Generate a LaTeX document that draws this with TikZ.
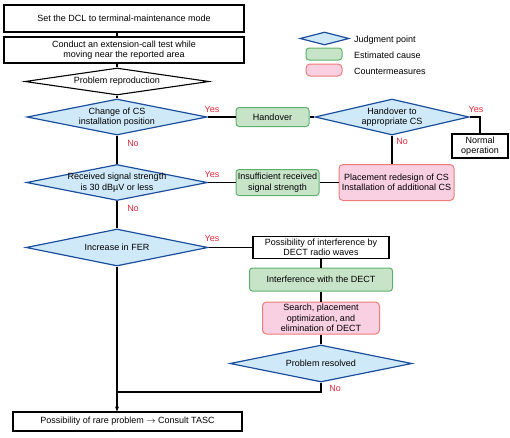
\documentclass[tikz,border=0pt]{standalone}
\usepackage{fontspec}
\setmainfont{Liberation Sans}
\usetikzlibrary{shapes.geometric,arrows.meta}

\definecolor{judgefill}{HTML}{CFE9F8}
\definecolor{judgeline}{HTML}{1B4F9E}
\definecolor{causefill}{HTML}{C7E3C8}
\definecolor{causeline}{HTML}{5DB26B}
\definecolor{measurefill}{HTML}{F8D0E1}
\definecolor{measureline}{HTML}{EE7C77}
\definecolor{answer}{HTML}{E8283C}

\begin{document}
\begin{tikzpicture}[x=1pt, y=-1pt, font=\fontsize{9}{10.5}\selectfont,
    every node/.style={align=center, inner sep=0pt},
    plainbox/.style={draw, rectangle, line width=1.1pt},
    judge/.style={diamond, draw=judgeline, fill=judgefill, line width=1.2pt},
    judgeplain/.style={diamond, draw, fill=white, line width=1.1pt},
    cause/.style={draw=causeline, fill=causefill, line width=1pt, rounded corners=3pt},
    measure/.style={draw=measureline, fill=measurefill, line width=1pt, rounded corners=4pt},
    reply/.style={text=answer},
    link/.style={line width=1.1pt}]
      \useasboundingbox (0,0) rectangle (510,437);
      % legend
      \node[judge, minimum width=49pt, minimum height=13pt] (keyjudge) at (324.5,38.5) {};
      \node[anchor=west] (keyjudgetxt) at (354,40) {Judgment point};
      \node[cause, minimum width=36pt, minimum height=12pt] (keycause) at (324,54) {};
      \node[anchor=west] (keycausetxt) at (354,55.5) {Estimated cause};
      \node[measure, minimum width=36pt, minimum height=12pt] (keymeasure) at (324,70) {};
      \node[anchor=west] (keymeasuretxt) at (354,71.5) {Countermeasures};
      % main column
      \node[plainbox, minimum width=240pt, minimum height=27pt] (setdcl) at (124,18.5) {Set the DCL to terminal-maintenance mode};
      \node[plainbox, minimum width=240pt, minimum height=26pt] (calltest) at (124,50) {Conduct an extension-call test while\\moving near the reported area};
      \node[judgeplain, minimum width=184pt, minimum height=27pt, label={center:Problem reproduction}] (reproduce) at (117,81.5) {};
      \node[judge, minimum width=180pt, minimum height=36pt, label={center:{Change of CS\\installation position}}] (cspos) at (117,117) {};
      \node[judge, minimum width=181pt, minimum height=36pt, label={center:{Received signal strength\\is 30 dB\textmu V or less}}] (rssi) at (117,182.5) {};
      \node[judge, minimum width=182pt, minimum height=37pt, label={center:Increase in FER}] (fer) at (117,247.5) {};
      \node[plainbox, minimum width=229pt, minimum height=19pt] (rare) at (127.5,421.5) {Possibility of rare problem $\rightarrow$ Consult TASC};
      % handover branch
      \node[cause, minimum width=73pt, minimum height=19pt] (handover) at (272.5,117) {Handover};
      \node[judge, minimum width=154pt, minimum height=36pt, label={center:{Handover to\\appropriate CS}}] (rightcs) at (392,117) {};
      \node[plainbox, minimum width=56pt, minimum height=24pt] (normal) at (480,146) {Normal\\operation};
      % signal branch
      \node[cause, minimum width=83pt, minimum height=26pt] (weak) at (277.5,182.5) {Insufficient received\\signal strength};
      \node[measure, minimum width=115pt, minimum height=36pt] (redesign) at (396.5,182.5) {Placement redesign of CS\\Installation of additional CS};
      % DECT branch
      \node[plainbox, minimum width=136pt, minimum height=22pt] (dectwave) at (321,247.5) {Possibility of interference by\\DECT radio waves};
      \node[cause, minimum width=143pt, minimum height=23pt] (dectcause) at (321,279.5) {Interference with the DECT};
      \node[measure, minimum width=117pt, minimum height=32pt] (dectfix) at (321,318) {Search, placement\\optimization, and\\elimination of DECT};
      \node[judge, minimum width=182pt, minimum height=37pt, label={center:Problem resolved}] (resolved) at (321,363.5) {};
      \coordinate (merge) at (117,392);
      % yes / no
      \node[reply] (yescs) at (212,109) {Yes};
      \node[reply] (nocs) at (133,143) {No};
      \node[reply] (yesright) at (476,109) {Yes};
      \node[reply] (noright) at (402,141) {No};
      \node[reply] (yesrssi) at (212,174) {Yes};
      \node[reply] (norssi) at (133,208) {No};
      \node[reply] (yesfer) at (212,238) {Yes};
      \node[reply] (noresolved) at (335,388) {No};
      % connectors
      \draw[link] (setdcl.south -| reproduce) -- (calltest.north -| reproduce);
      \draw[link] (calltest.south -| reproduce) -- (reproduce.north);
      \draw[link] (reproduce.south) -- (cspos.north);
      \draw[link] (cspos.south) -- (rssi.north);
      \draw[link] (rssi.south) -- (fer.north);
      \draw[link, -{Stealth[length=5pt, width=4pt]}] (fer.south) -- (rare.north -| fer);
      \draw[link] (cspos.east) -- (handover.west);
      \draw[link] (handover.east) -- (rightcs.west);
      \draw[link] (rightcs.east) -| (normal.north);
      \draw[link] (rightcs.south) -- (rightcs.south |- redesign.north);
      \draw[link] (rssi.east) -- (weak.west);
      \draw[link] (weak.east) -- (redesign.west);
      \draw[link] (fer.east) -- (dectwave.west);
      \draw[link] (dectwave.south) -- (dectcause.north);
      \draw[link] (dectcause.south) -- (dectfix.north);
      \draw[link] (dectfix.south) -- (resolved.north);
      \draw[link] (resolved.south) |- (merge);
\end{tikzpicture}
\end{document}
